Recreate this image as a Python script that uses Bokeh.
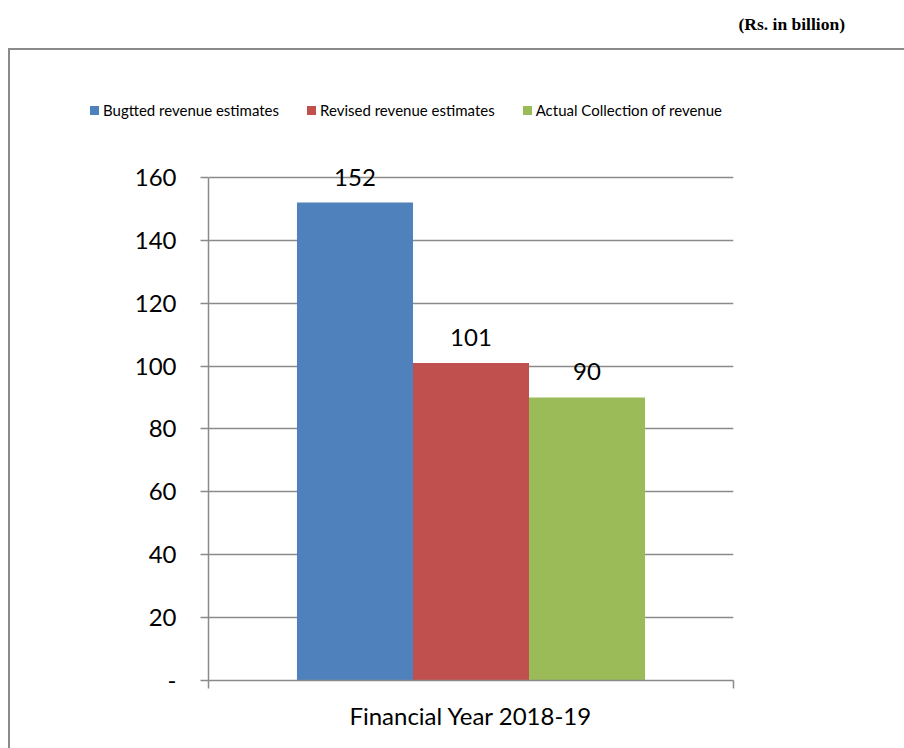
from bokeh.plotting import figure
from bokeh.models import (Range1d, FixedTicker, ColumnDataSource, LabelSet, Div)
from bokeh.layouts import column
from bokeh.core.properties import value
from bokeh.transform import dodge
from bokeh.embed import file_html
from bokeh.resources import INLINE

categories = ["Financial Year 2018-19"]
series_names = ["Bugtted revenue estimates", "Revised revenue estimates", "Actual Collection of revenue"]
series_values = [152, 101, 90]
series_colors = ["#4F81BD", "#C0504D", "#9BBB59"]
y_ticks = [0, 20, 40, 60, 80, 100, 120, 140, 160]
unit_note = "(Rs. in billion)"

FONT = "Lato"
GRID = "#8a8a8a"
BAR_W = 0.221

# category slots on a numeric axis: category i occupies [i, i+1]
cat_pos = [i + 0.5 for i in range(len(categories))]

p = figure(width=896, height=600, output_backend="svg", toolbar_location=None,
           x_range=Range1d(0, len(categories)), y_range=Range1d(0, 166),
           min_border_left=200, min_border_right=171, min_border_top=10, min_border_bottom=68)
p.outline_line_color = None
p.background_fill_color = "white"
p.border_fill_color = None
p.background_fill_alpha = 0

offsets = [(i - (len(series_values) - 1) / 2) * BAR_W for i in range(len(series_values))]
for name, val, col, off in zip(series_names, series_values, series_colors, offsets):
    src = ColumnDataSource(dict(x=cat_pos, top=[val], label=[str(val)]))
    p.vbar(x=dodge("x", off), top="top", width=BAR_W,
           source=src, fill_color=col, line_color=None, name=name)
    p.add_layout(LabelSet(x=dodge("x", off), y="top", text="label",
                          source=src, text_align="center", text_baseline="bottom",
                          y_offset=17, text_font=value(FONT), text_font_size="24px",
                          text_color="black"))

# grid / axes
p.xgrid.visible = False
p.ygrid.ticker = FixedTicker(ticks=y_ticks)
p.ygrid.grid_line_color = GRID
p.ygrid.grid_line_width = 1.5

ya = p.yaxis[0]
ya.ticker = FixedTicker(ticks=y_ticks)
ya.bounds = (y_ticks[0], y_ticks[-1])
ya.major_label_overrides = {0: "-"}
ya.axis_line_color = GRID
ya.axis_line_width = 1.5
ya.major_tick_line_color = GRID
ya.major_tick_line_width = 1.5
ya.major_tick_in = 0
ya.major_tick_out = 8
ya.minor_tick_line_color = None
ya.major_label_standoff = 24
ya.major_label_text_font = FONT
ya.major_label_text_font_size = "24px"
ya.major_label_text_color = "black"

xa = p.xaxis[0]
xa.ticker = FixedTicker(ticks=list(range(len(categories) + 1)))
xa.major_label_overrides = {i: " " for i in range(len(categories) + 1)}
xa.major_label_text_font_size = "1px"
xa.major_label_standoff = 0
xa.axis_line_color = GRID
xa.axis_line_width = 1.5
xa.major_tick_line_color = GRID
xa.major_tick_line_width = 1.5
xa.major_tick_in = 0
xa.major_tick_out = 8
xa.minor_tick_line_color = None
xa.axis_label = categories[0]
xa.axis_label_standoff = 8
xa.axis_label_text_font = FONT
xa.axis_label_text_font_size = "24px"
xa.axis_label_text_font_style = "normal"
xa.axis_label_text_color = "black"

# legend (HTML, above the plot area, inside the boxed chart area)
item_html = []
for i, (name, col) in enumerate(zip(series_names, series_colors)):
    ml = "82px" if i == 0 else "28px"
    item_html.append(
        f'<span style="display:inline-flex;align-items:center;margin-left:{ml};">'
        f'<span style="display:inline-block;width:9px;height:9px;background:{col};margin-right:4px;"></span>'
        f'<span>{name}</span></span>')
legend_div = Div(text='<div style="display:flex;align-items:center;height:126px;'
                      'font-family:Lato;font-size:15px;color:black;white-space:nowrap;">'
                 + "".join(item_html) + "</div>",
                 width=896, height=100, margin=0)

body = column(legend_div, p, spacing=0, margin=(0, 0, 0, 8),
              styles={"box-shadow": "inset 2px 2px 0 0 #8a8a8a"})

header = Div(text=unit_note, width=904, height=48, margin=0,
             styles={"font-family": "Liberation Serif", "font-weight": "bold",
                     "font-size": "17.5px", "text-align": "right", "padding-right": "59px",
                     "line-height": "49px", "box-sizing": "border-box", "color": "black"})

layout = column(header, body, spacing=0)
open("out.html", "w").write(file_html(layout, INLINE))
